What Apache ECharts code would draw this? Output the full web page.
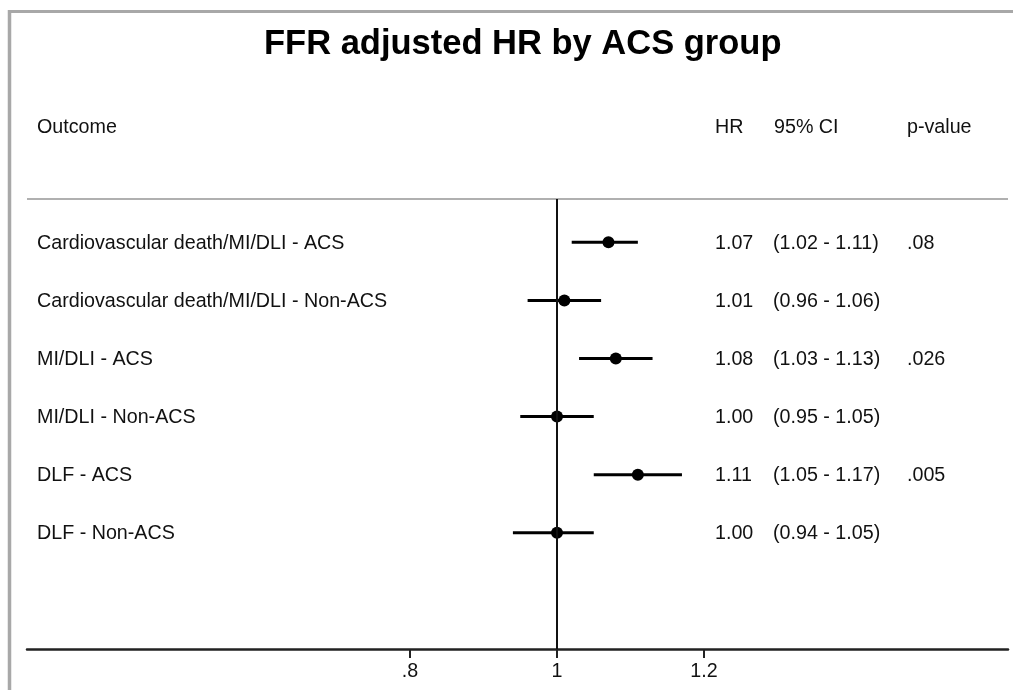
<!DOCTYPE html>
<html>
<head>
<meta charset="utf-8">
<script src="https://cdn.jsdelivr.net/npm/echarts@6/dist/echarts.min.js"></script>
<style>
  html, body { margin: 0; padding: 0; background: #fff; }
  #chart { width: 1013px; height: 690px; }
</style>
</head>
<body>
<div id="chart"></div>
<script>
// forest plot data, top row first
var outcomes = [
  'Cardiovascular death/MI/DLI - ACS',
  'Cardiovascular death/MI/DLI - Non-ACS',
  'MI/DLI - ACS',
  'MI/DLI - Non-ACS',
  'DLF - ACS',
  'DLF - Non-ACS'
];
var hr = [1.07, 1.01, 1.08, 1.00, 1.11, 1.00];
var ciLow = [1.02, 0.96, 1.03, 0.95, 1.05, 0.94];
var ciHigh = [1.11, 1.06, 1.13, 1.05, 1.17, 1.05];
var pValues = ['.08', '', '.026', '', '.005', ''];
var tickValues = [0.8, 1, 1.2];

var FONT = '"Liberation Sans", Arial, sans-serif';
var TXT = 19.7;

// row position on the y scale: first row at 7, last row at 2
function rowY(i) { return 7 - i; }

var ciData = [], dotData = [], textData = [];
for (var i = 0; i < outcomes.length; i++) {
  ciData.push([ciLow[i], ciHigh[i], rowY(i)]);
  dotData.push([hr[i], rowY(i)]);
  textData.push([1, rowY(i), i]);
}

var chart = echarts.init(document.getElementById('chart'));

var option = {
  backgroundColor: '#fff',
  animation: false,
  title: {
    text: 'FFR adjusted HR by ACS group',
    left: 259,
    top: 22,
    textStyle: { fontFamily: FONT, fontSize: 34.5, fontWeight: 'bold', color: '#000' }
  },
  grid: { left: 27, right: 5, top: 199, bottom: 41 },
  xAxis: {
    type: 'value',
    min: 0.2789,
    max: 1.6136,
    axisLine: { show: true, lineStyle: { color: '#222', width: 2.5 } },
    axisTick: { show: true, customValues: tickValues, length: 9, lineStyle: { color: '#222', width: 2 } },
    axisLabel: {
      customValues: tickValues,
      margin: 13,
      fontFamily: FONT,
      fontSize: TXT,
      color: '#111',
      formatter: function (v) { return v === 1 ? '1' : String(v).replace(/^0/, ''); }
    },
    splitLine: { show: false }
  },
  yAxis: {
    type: 'value',
    min: 0,
    max: 7.745,
    show: false
  },
  graphic: [
    // frame
    { type: 'line', shape: { x1: 9.5, y1: 11.5, x2: 1013, y2: 11.5 }, style: { stroke: '#a8a8a8', lineWidth: 3 } },
    { type: 'line', shape: { x1: 9.5, y1: 10, x2: 9.5, y2: 690 }, style: { stroke: '#a8a8a8', lineWidth: 3.5 } },
    // header separator
    { type: 'line', shape: { x1: 27, y1: 199, x2: 1008, y2: 199 }, style: { stroke: '#b0b0b0', lineWidth: 2 } },
    // column headers
    { type: 'text', style: { text: 'Outcome', x: 37, y: 128, verticalAlign: 'middle', fontFamily: FONT, fontSize: TXT, fill: '#111' } },
    { type: 'text', style: { text: 'HR', x: 715, y: 128, verticalAlign: 'middle', fontFamily: FONT, fontSize: TXT, fill: '#111' } },
    { type: 'text', style: { text: '95% CI', x: 774, y: 128, verticalAlign: 'middle', fontFamily: FONT, fontSize: TXT, fill: '#111' } },
    { type: 'text', style: { text: 'p-value', x: 907, y: 128, verticalAlign: 'middle', fontFamily: FONT, fontSize: TXT, fill: '#111' } }
  ],
  series: [
    {
      type: 'custom',
      name: 'CI',
      data: ciData,
      renderItem: function (params, api) {
        var a = api.coord([api.value(0), api.value(2)]);
        var b = api.coord([api.value(1), api.value(2)]);
        return {
          type: 'line',
          shape: { x1: a[0], y1: a[1], x2: b[0], y2: b[1] },
          style: { stroke: '#000', lineWidth: 3 }
        };
      },
      markLine: {
        silent: true,
        symbol: 'none',
        label: { show: false },
        lineStyle: { color: '#111', width: 2, type: 'solid' },
        data: [{ xAxis: 1 }]
      },
      z: 3
    },
    {
      type: 'scatter',
      name: 'HR',
      data: dotData,
      symbol: 'circle',
      symbolSize: 12,
      itemStyle: { color: '#000', opacity: 1 },
      z: 4
    },
    {
      type: 'custom',
      name: 'rows',
      data: textData,
      renderItem: function (params, api) {
        var idx = api.value(2);
        var y = api.coord([1, api.value(1)])[1] + 1;
        var base = { verticalAlign: 'middle', fontFamily: FONT, fontSize: TXT, fill: '#111' };
        function t(str, x) {
          return { type: 'text', style: Object.assign({ text: str, x: x, y: y }, base) };
        }
        return {
          type: 'group',
          children: [
            t(outcomes[idx], 37),
            t(hr[idx].toFixed(2), 715),
            t('(' + ciLow[idx].toFixed(2) + ' - ' + ciHigh[idx].toFixed(2) + ')', 773),
            t(pValues[idx], 907)
          ]
        };
      },
      z: 5
    }
  ]
};

chart.setOption(option);
</script>
</body>
</html>
